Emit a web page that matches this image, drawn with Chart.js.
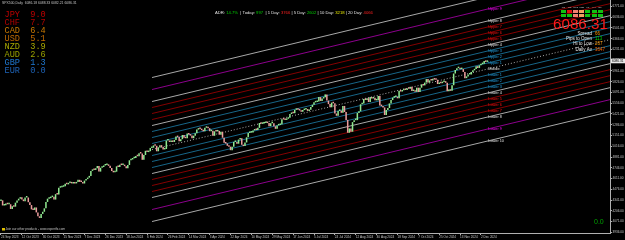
<!DOCTYPE html>
<html>
<head>
<meta charset="utf-8">
<title>SPX500 Daily</title>
<script src="https://cdn.jsdelivr.net/npm/chart.js@4.4.1/dist/chart.umd.min.js"></script>
<style>
  html, body { margin: 0; padding: 0; background: #000; }
  #wrap { position: relative; width: 625px; height: 240px; overflow: hidden; background: #000; }
  #chart { position: absolute; left: 0; top: 0; }
  .strength { position: absolute; left: 4.5px; font: 8.6px "Liberation Mono", monospace; line-height: 8px; white-space: pre; }
  #bigPrice { position: absolute; left: 553px; top: 16px; font: 15.2px "Liberation Sans", Arial, sans-serif; color: #ff1a1a; line-height: 15px; }
  #zero { position: absolute; left: 594px; top: 218.4px; font: 7px "Liberation Sans", Arial, sans-serif; color: #00a000; line-height: 7px; }
  .cell { position: absolute; width: 5px; height: 3px; }
</style>
</head>
<body>
<div id="wrap">
  <canvas id="chart" width="625" height="240"></canvas>
  <div id="bigPrice">6086.31</div>
  <div id="zero">0.0</div>
  <div id="signals"></div>
</div>
<script>
// cierres diarios SPX500
const sep23 = [4337, 4273, 4275, 4299, 4288]
const oct23 = [4288, 4229, 4263, 4258, 4308, 4336, 4358, 4376, 4349, 4327, 4373, 4373, 4314, 4278, 4224, 4217, 4248, 4186, 4137, 4117, 4167, 4194]
const nov23 = [4237, 4317, 4358, 4365, 4378, 4382, 4347, 4415, 4411, 4496, 4502, 4508, 4514, 4547, 4538, 4556, 4559, 4550, 4554, 4550, 4568]
const dec23 = [4595, 4569, 4567, 4549, 4585, 4604, 4622, 4644, 4707, 4720, 4719, 4740, 4768, 4698, 4746, 4755, 4775, 4781, 4783, 4770]
const jan24 = [4743, 4705, 4689, 4697, 4764, 4756, 4783, 4780, 4784, 4766, 4739, 4781, 4840, 4850, 4865, 4869, 4894, 4891, 4928, 4925, 4846]
const feb24 = [4906, 4959, 4943, 4954, 4995, 4998, 5027, 5022, 4953, 5001, 5030, 5006, 4976, 4982, 5088, 5089, 5070, 5078, 5070, 5096]
const mar24 = [5137, 5131, 5079, 5105, 5157, 5124, 5117, 5175, 5165, 5150, 5117, 5149, 5179, 5225, 5241, 5234, 5218, 5204, 5248, 5254]
const apr24 = [5243, 5205, 5211, 5147, 5204, 5202, 5209, 5161, 5199, 5123, 5061, 5051, 5022, 5011, 4967, 5010, 5070, 5071, 5048, 5100, 5116, 5036]
const may24 = [5018, 5064, 5128, 5181, 5187, 5188, 5214, 5223, 5221, 5247, 5308, 5297, 5303, 5308, 5321, 5307, 5268, 5305, 5306, 5267, 5235, 5278]
const jun24 = [5283, 5291, 5354, 5353, 5347, 5361, 5375, 5421, 5434, 5431, 5473, 5487, 5473, 5465, 5448, 5470, 5478, 5483, 5460]
const jul24 = [5475, 5509, 5537, 5567, 5572, 5577, 5633, 5585, 5615, 5631, 5667, 5589, 5545, 5505, 5564, 5555, 5427, 5399, 5459, 5464, 5436, 5522]
const aug24 = [5446, 5347, 5186, 5240, 5199, 5319, 5344, 5344, 5434, 5455, 5543, 5554, 5608, 5597, 5620, 5571, 5635, 5616, 5625, 5592, 5592, 5648]
const sep24 = [5528, 5520, 5503, 5408, 5471, 5496, 5554, 5596, 5626, 5633, 5634, 5618, 5714, 5703, 5719, 5732, 5722, 5745, 5738, 5762]
const oct24 = [5709, 5710, 5699, 5751, 5696, 5751, 5792, 5780, 5815, 5859, 5815, 5843, 5841, 5864, 5853, 5851, 5797, 5809, 5808, 5823, 5833, 5813, 5705]
const nov24 = [5728, 5712, 5782, 5929, 5973, 5996, 6001, 5984, 5985, 5949, 5871, 5893, 5917, 5917, 5948, 5969, 5987, 6021, 5999, 6032]
const dec24 = [6047, 6050, 6086, 6075, 6086.31]
const firstOpen = 4330

// etiquetas de los ejes
const tickDates = ['24 Sep 2023', '12 Oct 2023', '30 Oct 2023', '15 Nov 2023', '7 Dec 2023', '26 Dec 2023', '18 Jan 2024', '6 Feb 2024',
  '26 Feb 2024', '14 Mar 2024', '3 Apr 2024', '22 Apr 2024', '10 May 2024', '29 May 2024', '17 Jun 2024', '5 Jul 2024',
  '24 Jul 2024', '12 Aug 2024', '30 Aug 2024', '18 Sep 2024', '7 Oct 2024', '25 Oct 2024', '13 Nov 2024', '2 Dec 2024']
const tickEvery = 13
const priceTicks = [3936, 4071, 4206, 4341, 4476, 4611, 4746, 4881, 5016, 5151, 5286, 5421, 5556, 5691, 5826, 5961, 6096, 6231, 6366, 6501, 6636, 6771]
const yRange = [3927.4, 6851.6]
const xRange = [-0.62, 379.4]

// canal de regresion: linea media (inicio, fin) y multiplos de la desviacion
const channelX = [94.1, 379.4]
const channelMid = [4975, 6354]
const channelDev = 75.3
const channelNames = ['Upper 10', 'Upper 9', 'Upper 8', 'Upper 7', 'Upper 6', 'Upper 5', 'Upper 4', 'Upper 3', 'Upper 2', 'Upper 1', 'Middle',
  'Lower 1', 'Lower 2', 'Lower 3', 'Lower 4', 'Lower 5', 'Lower 6', 'Lower 7', 'Lower 8', 'Lower 9', 'Lower 10']
const channelMult = [12, 10, 8, 7, 6, 5, 4, 3, 2, 1, 0, -1, -2, -3, -4, -5, -6, -7, -8, -10, -12]

// fuerza de divisas
const strengthCur = ['JPY', 'CHF', 'CAD', 'USD', 'NZD', 'AUD', 'GBP', 'EUR']
const strengthVal = [9.0, 7.7, 6.4, 5.1, 3.9, 2.6, 1.3, 0.0]

// panel ADR e info
const adrParts = [['ADR: ', 'w'], ['14.7%', 'g'], ['  | Today: ', 'w'], ['997', 'g'], ['  | 1 Day: ', 'w'], ['3766', 'r'],
  [' | 5 Day: ', 'w'], ['2602', 'g'], [' | 10 Day: ', 'w'], ['3218', 'y'], [' | 20 Day: ', 'w'], ['4066', 'r']]
const infoLabels = ['Spread', 'Pips to Open', 'Hi to Low', 'Daily Av']
const infoValues = ['66', '113', '267', '3647']
const signalFrames = ['M1', 'M5', 'M15', 'M30', 'H1', 'H4', 'D1']
const signalState = ['up', 'down', 'weak', 'mid', 'up', 'up', 'up']

// ---- estilos ----
const kindOf = m => ({ 12: 'white', 10: 'magenta', 8: 'white', 7: 'red', 6: 'red', 5: 'red', 4: 'white', 3: 'blue', 2: 'blue', 1: 'blue', 0: 'mid' })[Math.abs(m)]
const lineColor = { white: '#a8a8a8', magenta: '#8c008c', red: '#840000', blue: '#176688', mid: '#b0b0b0' }
const labelColor = { white: '#e0e0e0', magenta: '#ff00ff', red: '#ff1010', blue: '#22a0e0', mid: '#e0e0e0' }
const textColor = { w: '#e0e0e0', g: '#00d000', r: '#ff2020', y: '#e8e800' }
const strengthColor = ['#c00000', '#b00000', '#c87800', '#c06a00', '#a8a800', '#98a000', '#1e78d0', '#1e64b8']
const signalColor = { up: '#10c010', down: '#e01010', weak: '#f08070', mid: '#f0a060' }
const infoColor = ['#ff9900', '#00d000', '#ff9900', '#ff6600']
const font = '"Liberation Sans", Arial, sans-serif'

Chart.defaults.font.family = font

const closes = [].concat(sep23, oct23, nov23, dec23, jan24, feb24, mar24, apr24, may24, jun24, jul24, aug24, sep24, oct24, nov24, dec24)
const opens = closes.map((c, i) => i ? closes[i - 1] : firstOpen)
const lastIdx = closes.length - 1

// tabla de fuerza (texto real)
const wrap = document.getElementById('wrap')
strengthCur.forEach((cur, i) => {
  const d = document.createElement('div')
  d.className = 'strength'
  d.style.top = (11 + i * 8) + 'px'
  d.style.color = strengthColor[i]
  d.textContent = cur + '  ' + strengthVal[i].toFixed(1)
  wrap.appendChild(d)
})

// cuadro de señales
const signals = document.getElementById('signals')
signalFrames.forEach((f, i) => {
  const top = document.createElement('div')
  top.className = 'cell'
  top.style.left = (561 + i * 6.1) + 'px'
  top.style.top = '10px'
  top.style.background = signalColor[signalState[i]]
  signals.appendChild(top)
  const bot = document.createElement('div')
  bot.className = 'cell'
  bot.style.left = (561 + i * 6.1) + 'px'
  bot.style.top = '14px'
  bot.style.background = signalColor[signalState[i] === 'down' ? 'up' : signalState[i]]
  signals.appendChild(bot)
})

// datasets
const candles = {
  type: 'bar',
  data: closes.map((c, i) => ({ x: i, y: [opens[i], c] })),
  backgroundColor: closes.map((c, i) => c >= opens[i] ? '#90e890' : '#eb9c9c'),
  barPercentage: 1,
  categoryPercentage: 0.95,
  minBarLength: 1.5,
  order: 0
}

const channel = channelMult.map((m, i) => ({
  type: 'line',
  label: channelNames[i],
  data: channelX.map((x, k) => ({ x, y: channelMid[k] + m * channelDev })),
  borderColor: lineColor[kindOf(m)],
  borderWidth: 1,
  borderDash: m === 0 ? [1, 2] : [],
  pointRadius: 0,
  order: 1
}))

const overlay = {
  id: 'overlay',
  afterDatasetsDraw(chart) {
    const { ctx, scales: { x } } = chart
    ctx.save()
    ctx.font = '3.8px ' + font
    ctx.textBaseline = 'middle'
    const lx = x.getPixelForValue(lastIdx) + 1
    channel.forEach((ds, i) => {
      const meta = chart.getDatasetMeta(i + 1)
      const p0 = meta.data[0], p1 = meta.data[1]
      const ly = p0.y + (p1.y - p0.y) * (lx - p0.x) / (p1.x - p0.x)
      ctx.fillStyle = labelColor[kindOf(channelMult[i])]
      ctx.fillText(channelNames[i], lx, ly)
    })
    ctx.restore()
  },
  afterDraw(chart) {
    const { ctx, scales: { y } } = chart
    ctx.save()
    ctx.textBaseline = 'middle'

    // titulo
    ctx.font = '3.4px ' + font
    ctx.fillStyle = '#c0c0c0'
    ctx.fillText('SPX500,Daily  6086.18 6088.33 6082.21 6086.31', 2, 3.5)

    // linea ADR
    ctx.font = '4.2px ' + font
    let ax = 215
    adrParts.forEach(([t, c]) => {
      ctx.fillStyle = textColor[c]
      ctx.fillText(t, ax, 13.3)
      ax += ctx.measureText(t).width
    })

    // info a la derecha
    ctx.font = '4.5px ' + font
    infoLabels.forEach((t, i) => {
      const ty = 33.3 + i * 5.35
      ctx.textAlign = 'right'
      ctx.fillStyle = '#e8e8e8'
      ctx.fillText(t, 592, ty)
      ctx.textAlign = 'left'
      ctx.fillStyle = infoColor[i]
      ctx.fillText(infoValues[i], 595, ty)
    })

    // marcos de tiempo del cuadro de señales
    ctx.font = '2.4px ' + font
    ctx.fillStyle = '#d0d0d0'
    ctx.textAlign = 'center'
    signalFrames.forEach((f, i) => ctx.fillText(f, 563.5 + i * 6.1, 7.5))
    ctx.textAlign = 'left'

    // etiqueta del precio actual
    const py = y.getPixelForValue(closes[lastIdx])
    ctx.fillStyle = '#e8e8e8'
    ctx.fillRect(611, py - 2.3, 14, 4.6)
    ctx.fillStyle = '#000'
    ctx.font = '3.2px ' + font
    ctx.fillText(closes[lastIdx].toFixed(2), 612, py)

    // enlace inferior
    ctx.fillStyle = '#e0c000'
    ctx.fillRect(2, 228, 3, 2.5)
    ctx.font = '3.1px ' + font
    ctx.fillStyle = '#c0c0c0'
    ctx.fillText('Join our other products - www.expertfx.com', 5.5, 229.3)
    ctx.restore()
  }
}

new Chart(document.getElementById('chart'), {
  data: { datasets: [candles, ...channel] },
  options: {
    responsive: false,
    animation: false,
    events: [],
    layout: { padding: 0 },
    plugins: { legend: { display: false }, tooltip: { enabled: false } },
    scales: {
      x: {
        type: 'linear',
        offset: false,
        min: xRange[0],
        max: xRange[1],
        afterBuildTicks: s => { s.ticks = tickDates.map((d, i) => ({ value: i * tickEvery })) },
        afterFit: s => { s.height = 7; s.paddingLeft = 0; s.paddingRight = 0 },
        ticks: {
          callback: (v, i) => tickDates[i],
          align: 'start', autoSkip: false, maxRotation: 0,
          color: '#c8c8c8', font: { size: 3.1 }, padding: 0.5
        },
        grid: { drawOnChartArea: false, offset: false, color: '#b0b0b0', tickLength: 2 },
        border: { color: '#b0b0b0' }
      },
      y: {
        position: 'right',
        min: yRange[0],
        max: yRange[1],
        afterBuildTicks: s => { s.ticks = priceTicks.map(v => ({ value: v })) },
        afterFit: s => { s.width = 15; s.paddingTop = 0; s.paddingBottom = 0 },
        ticks: { callback: v => v.toFixed(2), color: '#c8c8c8', font: { size: 3.1 }, padding: 0.5 },
        grid: { drawOnChartArea: false, color: '#b0b0b0', tickLength: 2 },
        border: { color: '#b0b0b0' }
      }
    }
  },
  plugins: [overlay]
})
</script>
</body>
</html>
